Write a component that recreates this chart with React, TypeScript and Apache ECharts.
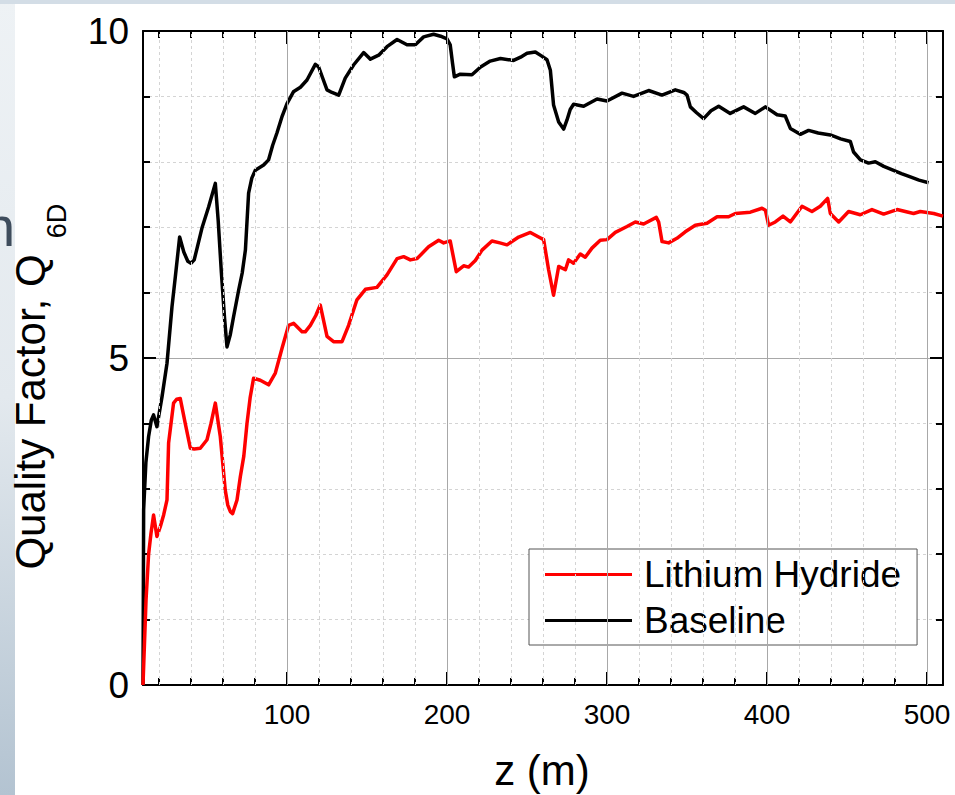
import React, { useEffect, useRef } from "react";
import * as echarts from "echarts";

// ---- data ----
const zBaseline = [
  10, 10.4, 11.8, 13.5, 15.2, 16.6, 18.7, 21.9, 25, 28.1, 30.2, 32.9, 35.5, 38, 40, 42, 44, 47, 51, 55.2,
  57, 59, 61, 62.5, 64.5, 66.6, 69.8, 72, 74, 76, 78, 80.2, 85.4, 88.5, 91, 93.7, 97, 100, 104, 108.4,
  112.5, 117.7, 119.8, 122, 125, 128.1, 132.3, 136.4, 141.6, 147.9, 152.1, 157.3, 162.5, 168.8, 175, 180.2,
  185.4, 191.6, 196, 200, 202, 203.5, 204.6, 208.3, 215.6, 221, 227, 233.4, 241.6, 246, 250, 255.2, 259,
  262.5, 264.6, 266.6, 269.8, 272.9, 275, 277, 279.1, 285.4, 293.8, 300, 309.4, 316.6, 326, 334.4, 342.7,
  348, 350, 352.1, 356, 360.4, 365, 369.8, 377, 385.4, 392.7, 399, 406.3, 411.4, 414.6, 420.8, 426, 432,
  439.6, 446, 452.1, 454.1, 458.4, 463.5, 467.7, 473, 479.1, 484, 489.6, 495, 501,
];
const qBaseline = [
  0, 2.68, 3.4, 3.8, 4.05, 4.13, 3.95, 4.41, 4.92, 5.78, 6.24, 6.85, 6.62, 6.48, 6.45, 6.5, 6.7, 7.0, 7.31, 7.67,
  7.1, 6.3, 5.6, 5.17, 5.35, 5.63, 6.04, 6.3, 6.65, 7.52, 7.75, 7.87, 7.95, 8.03, 8.25, 8.44, 8.7, 8.89, 9.07, 9.14,
  9.25, 9.49, 9.45, 9.3, 9.1, 9.06, 9.02, 9.28, 9.48, 9.67, 9.57, 9.63, 9.76, 9.87, 9.79, 9.79,
  9.91, 9.95, 9.92, 9.88, 9.79, 9.5, 9.3, 9.34, 9.33, 9.45, 9.54, 9.58, 9.55, 9.6, 9.66, 9.68, 9.62,
  9.56, 9.4, 8.87, 8.61, 8.5, 8.64, 8.8, 8.88, 8.85, 8.96, 8.93, 9.05, 9.0, 9.09, 9.02, 9.1,
  9.06, 9.02, 8.84, 8.75, 8.66, 8.78, 8.85, 8.74, 8.84, 8.74, 8.84, 8.72, 8.7, 8.51, 8.42, 8.48, 8.44,
  8.41, 8.35, 8.31, 8.15, 8.03, 7.98, 8.0, 7.93, 7.87, 7.82, 7.77, 7.72, 7.68,
];

const zLiH = [
  10, 11.9, 13.5, 15, 16.6, 18.7, 20.8, 22.9, 25, 26, 29.1, 31, 33.3, 36.4, 39.6, 42, 45.8, 50, 52.5, 55.2,
  58.3, 61.4, 63, 64.6, 66, 68.75, 70.8, 73, 75, 77, 79.1, 83.3, 88.5, 92.7, 96.9, 101, 104.1, 109.4, 111.4,
  114.6, 118, 120.8, 125, 129.1, 134.4, 138.5, 143.7, 149, 156.2, 162.5, 168.8, 172.9, 177.1, 181.3, 188.5,
  194.8, 197.9, 202, 205.8, 210.4, 213.5, 217.7, 221.9, 228.1, 233, 237.5, 244.8, 252.1, 257.3, 260.4, 263.5,
  266.6, 269.8, 274, 276, 279.1, 283.3, 286.4, 290.6, 295.8, 300, 305.2, 312.5, 317.7, 322.9, 330.8, 332.3,
  334.4, 338.5, 343.7, 348.9, 355.2, 362.5, 368.8, 376, 380.2, 389.6, 396.9, 399, 401, 405.2, 410, 414.6,
  421.9, 428.1, 433.3, 437.9, 439.6, 444.8, 451, 458.3, 465.6, 472.9, 481.3, 491.6, 495.8, 504.2, 510,
];
const qLiH = [
  0, 1.3, 2.0, 2.32, 2.6, 2.27, 2.42, 2.6, 2.83, 3.7, 4.31, 4.37, 4.38, 4.0, 3.62, 3.61, 3.62, 3.75, 4.0, 4.31,
  3.8, 2.98, 2.75, 2.65, 2.62, 2.83, 3.18, 3.5, 4.0, 4.4, 4.69, 4.66, 4.59, 4.77, 5.15, 5.5, 5.53, 5.4, 5.4,
  5.5, 5.65, 5.81, 5.33, 5.25, 5.25, 5.5, 5.89, 6.05, 6.08, 6.27, 6.52, 6.55, 6.5, 6.52, 6.7,
  6.8, 6.76, 6.79, 6.32, 6.41, 6.39, 6.49, 6.65, 6.79, 6.76, 6.73, 6.85, 6.92, 6.85, 6.81, 6.35,
  5.96, 6.4, 6.35, 6.5, 6.45, 6.59, 6.54, 6.68, 6.8, 6.81, 6.92, 7.01, 7.08, 7.05, 7.15, 7.08,
  6.78, 6.76, 6.83, 6.93, 7.03, 7.06, 7.16, 7.16, 7.21, 7.23, 7.29, 7.26, 7.03, 7.08, 7.17, 7.08,
  7.32, 7.24, 7.32, 7.44, 7.21, 7.08, 7.24, 7.19, 7.27, 7.2, 7.27, 7.21, 7.24, 7.21, 7.17,
];

const xMajorTicks = [100, 200, 300, 400, 500];
const xMinorTicks = [20, 40, 60, 80, 100, 120, 140, 160, 180, 200, 220, 240, 260, 280, 300, 320, 340, 360, 380, 400, 420, 440, 460, 480, 500];
const xMinorGrid = [20, 40, 60, 80, 120, 140, 160, 180, 220, 240, 260, 280, 320, 340, 360, 380, 420, 440, 460, 480];

const FONT = "Liberation Sans, Arial, sans-serif";

export default function App() {
  const ref = useRef<HTMLDivElement>(null);

  useEffect(() => {
    if (!ref.current) return;
    const chart = echarts.init(ref.current, null, { renderer: "svg" });

    const zip = (xs: number[], ys: number[]) => xs.map((x, i) => [x, ys[i]]);

    const axisLineStyle = { color: "#000", width: 2 };
    const xBase = { type: "value", min: 10, max: 510, splitLine: { show: false } };

    const option: any = {
      animation: false,
      backgroundColor: "#ffffff",
      grid: { left: 143, right: 12, top: 31, bottom: 110, containLabel: false },
      legend: {
        data: ["Lithium Hydride", "Baseline"],
        orient: "vertical",
        left: 529,
        top: 549,
        icon: "rect",
        itemWidth: 87,
        itemHeight: 3,
        itemGap: 9,
        padding: [7, 16, 6, 16],
        borderColor: "#555",
        borderWidth: 1,
        backgroundColor: "#ffffff",
        textStyle: { fontSize: 37, color: "#000", fontFamily: FONT, padding: [0, 0, 0, 7] },
      },
      xAxis: [
        {
          ...xBase,
          position: "bottom",
          axisLine: { show: true, lineStyle: axisLineStyle },
          axisTick: { show: true, inside: true, length: 13, customValues: xMajorTicks, lineStyle: { color: "#000", width: 2 } },
          axisLabel: { show: true, customValues: xMajorTicks, fontSize: 28, margin: 15, color: "#000", fontFamily: FONT },
        },
        {
          ...xBase,
          position: "bottom",
          axisLine: { show: false },
          axisTick: { show: true, inside: true, length: 7, customValues: xMinorTicks, lineStyle: { color: "#000", width: 2 } },
          axisLabel: { show: false },
        },
        {
          ...xBase,
          position: "top",
          axisLine: { show: true, lineStyle: axisLineStyle },
          axisTick: { show: true, inside: true, length: 13, customValues: xMajorTicks, lineStyle: { color: "#000", width: 2 } },
          axisLabel: { show: false },
        },
        {
          ...xBase,
          position: "top",
          axisLine: { show: false },
          axisTick: { show: true, inside: true, length: 7, customValues: xMinorTicks, lineStyle: { color: "#000", width: 2 } },
          axisLabel: { show: false },
        },
      ],
      yAxis: [
        {
          type: "value",
          position: "left",
          min: 0,
          max: 10,
          interval: 5,
          axisLine: { show: true, lineStyle: axisLineStyle },
          axisTick: { show: true, inside: true, length: 13, lineStyle: { color: "#000", width: 2 } },
          minorTick: { show: true, splitNumber: 5, length: 7, lineStyle: { color: "#000", width: 2 } },
          axisLabel: { fontSize: 37, margin: 14, color: "#000", fontFamily: FONT },
          splitLine: { show: true, lineStyle: { color: "#a8a8a8", width: 1 } },
          minorSplitLine: { show: true, lineStyle: { color: "#d4d4d4", width: 1, type: [3, 3] } },
        },
        {
          type: "value",
          position: "right",
          min: 0,
          max: 10,
          interval: 5,
          axisLine: { show: true, lineStyle: axisLineStyle },
          axisTick: { show: true, inside: true, length: 13, lineStyle: { color: "#000", width: 2 } },
          minorTick: { show: true, splitNumber: 5, length: 7, lineStyle: { color: "#000", width: 2 } },
          axisLabel: { show: false },
          splitLine: { show: false },
        },
      ],
      series: [
        {
          type: "line",
          xAxisIndex: 0,
          yAxisIndex: 0,
          data: [],
          z: 1,
          silent: true,
          markLine: {
            silent: true,
            symbol: ["none", "none"],
            label: { show: false },
            animation: false,
            data: [
              ...xMinorGrid.map((v) => ({ xAxis: v, lineStyle: { color: "#d4d4d4", width: 1, type: [3, 3] } })),
              ...xMajorTicks.map((v) => ({ xAxis: v, lineStyle: { color: "#a8a8a8", width: 1, type: "solid" } })),
            ],
          },
        },
        {
          name: "Baseline",
          type: "line",
          xAxisIndex: 0,
          yAxisIndex: 0,
          data: zip(zBaseline, qBaseline),
          showSymbol: false,
          symbol: "none",
          smooth: false,
          lineStyle: { color: "#000000", width: 3.5, join: "round" },
          itemStyle: { color: "#000000" },
          z: 3,
        },
        {
          name: "Lithium Hydride",
          type: "line",
          xAxisIndex: 0,
          yAxisIndex: 0,
          data: zip(zLiH, qLiH),
          showSymbol: false,
          symbol: "none",
          smooth: false,
          lineStyle: { color: "#ff0000", width: 3.5, join: "round" },
          itemStyle: { color: "#ff0000" },
          z: 4,
        },
      ],
      graphic: [
        {
          type: "rect",
          z: -10,
          silent: true,
          shape: { x: 0, y: 0, width: 15, height: 795 },
          style: {
            fill: new echarts.graphic.LinearGradient(0, 0, 0, 1, [
              { offset: 0, color: "#eef2f5" },
              { offset: 0.5, color: "#e3e9ee" },
              { offset: 1, color: "#b3c3d1" },
            ]),
          },
        },
        {
          type: "rect",
          z: -10,
          silent: true,
          shape: { x: 0, y: 0, width: 955, height: 4 },
          style: { fill: "#d3dde6" },
        },
        {
          type: "text",
          silent: true,
          x: -16,
          y: 226,
          style: { text: "n", fontSize: 56, fill: "#3e4c5c", fontFamily: FONT, align: "left", verticalAlign: "middle" },
        },
        {
          type: "text",
          silent: true,
          x: 30,
          y: 412,
          rotation: Math.PI / 2,
          style: { text: "Quality Factor, Q", fontSize: 42, fill: "#000", fontFamily: FONT, align: "center", verticalAlign: "middle" },
        },
        {
          type: "text",
          silent: true,
          x: 57,
          y: 221,
          rotation: Math.PI / 2,
          style: { text: "6D", fontSize: 27, fill: "#000", fontFamily: FONT, align: "center", verticalAlign: "middle" },
        },
        {
          type: "text",
          silent: true,
          x: 542,
          y: 770,
          style: { text: "z (m)", fontSize: 42, fill: "#000", fontFamily: FONT, align: "center", verticalAlign: "middle" },
        },
      ],
    };

    chart.setOption(option);
    return () => chart.dispose();
  }, []);

  return <div ref={ref} style={{ position: "absolute", left: 0, top: 0, width: 955, height: 795 }} />;
}
